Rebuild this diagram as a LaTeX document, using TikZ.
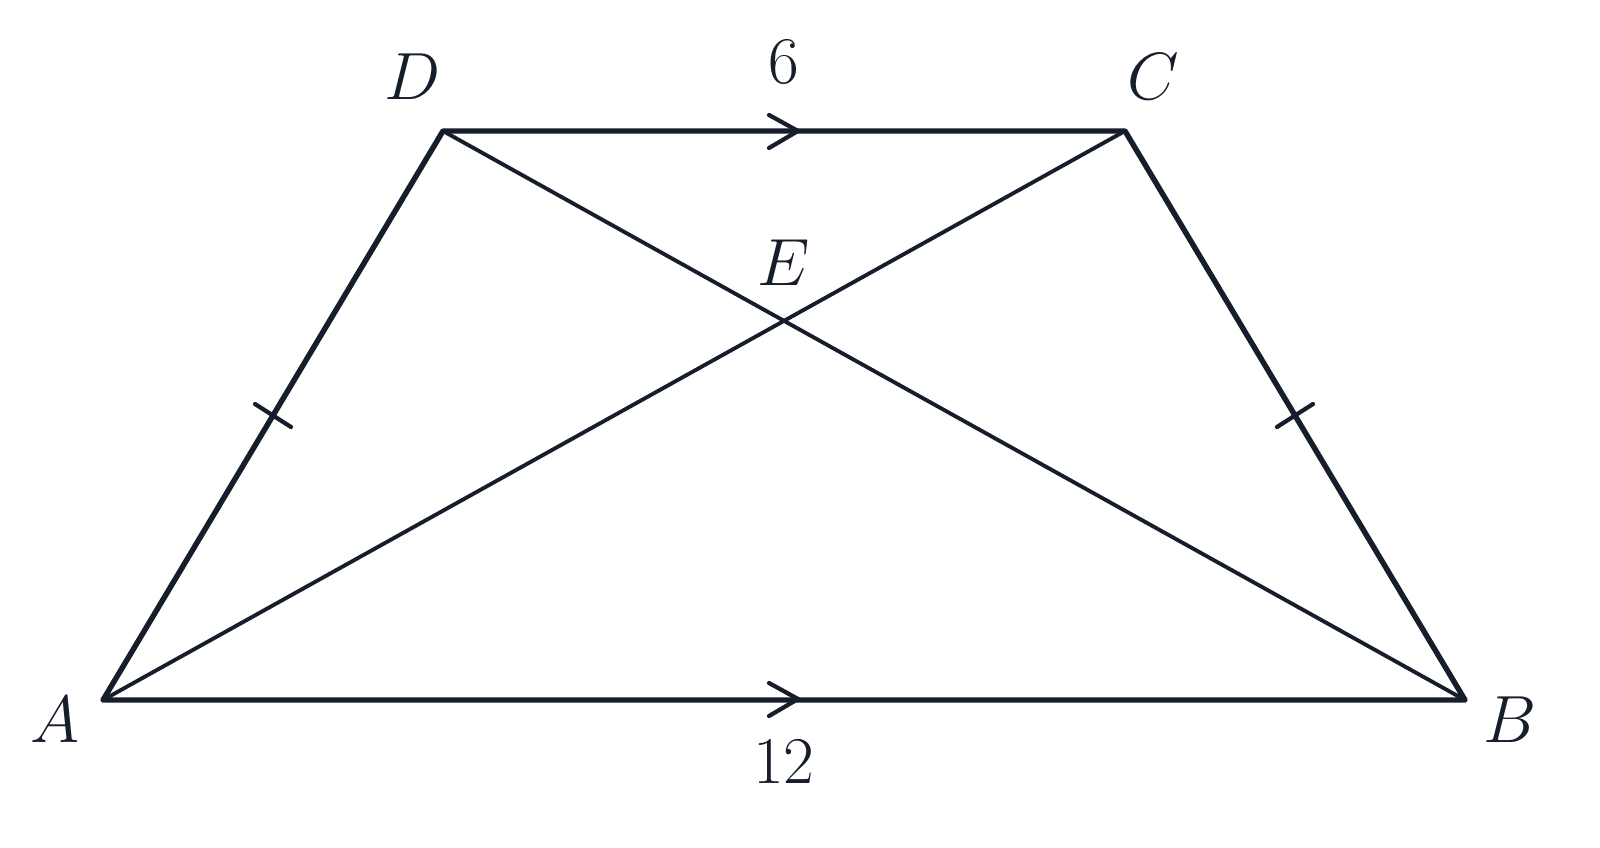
\RequirePackage{fix-cm}
\documentclass[tikz,border=0pt]{standalone}
\usepackage{xcolor}
\usetikzlibrary{calc}
\definecolor{ink}{HTML}{161D2B}
\begin{document}
\begin{tikzpicture}[x=0.02cm,y=-0.02cm,
  side/.style={ink,line width=3.1pt,line cap=round,line join=round},
  diag/.style={ink,line width=2.2pt,line cap=round},
  tickmk/.style={ink,line width=2.4pt,line cap=round,line join=miter},
  lab/.style={text=ink,font=\fontsize{38}{40}\selectfont,inner sep=0pt}]
\useasboundingbox (0,0) rectangle (1600,848);
\coordinate (A) at (103,700);
\coordinate (B) at (1465,700);
\coordinate (C) at (1125,131);
\coordinate (D) at (443,131);
\draw[side] (A) -- (B) -- (C) -- (D) -- cycle;
\draw[diag] (A) -- (C);
\draw[diag] (D) -- (B);
\coordinate (t1) at (798,131);
\coordinate (t2) at (798,699);
\draw[tickmk] ($(t1)+(-29,-16)$) -- (t1) -- ($(t1)+(-29,17)$);
\draw[tickmk] ($(t2)+(-29,-16)$) -- (t2) -- ($(t2)+(-29,17)$);
\coordinate (m1a) at (255,404); \coordinate (m1b) at (291,427);
\coordinate (m2a) at (1313,404); \coordinate (m2b) at (1277,427);
\draw[tickmk] (m1a) -- (m1b);
\draw[tickmk] (m2a) -- (m2b);
\node[lab] (lD) at (413,77) {$D$};
\node[lab] (lC) at (1153,77) {$C$};
\node[lab] (l6) at (784,62) {$6$};
\node[lab] (lE) at (784,263) {$E$};
\node[lab] (lA) at (55,720) {$A$};
\node[lab] (lB) at (1510,720) {$B$};
\node[lab] (l12) at (784,762) {$12$};
\end{tikzpicture}
\end{document}
